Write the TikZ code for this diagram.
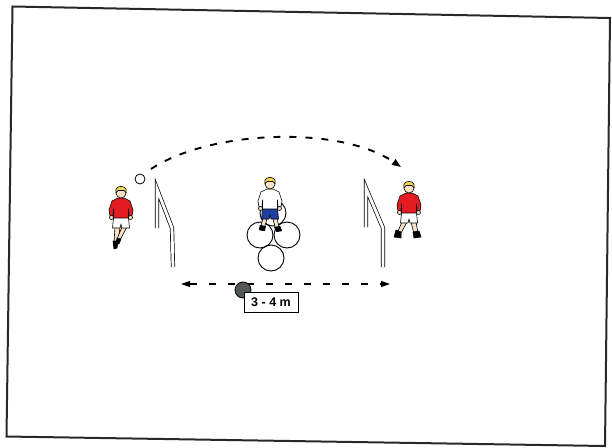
\documentclass[tikz,border=0pt]{standalone}
\usepackage{fontspec}
\setsansfont{Liberation Sans}
\usetikzlibrary{arrows.meta}

\definecolor{shirtred}{RGB}{226,28,32}
\definecolor{skin}{RGB}{250,226,196}
\definecolor{hairyellow}{RGB}{242,216,80}
\definecolor{shortsblue}{RGB}{32,62,160}
\definecolor{markgrey}{RGB}{84,88,84}
\definecolor{framegrey}{RGB}{40,40,40}

\tikzset{
  outline/.style={draw=black, line width=0.6pt, line join=round},
  frameline/.style={draw=framegrey, line width=2pt, line join=miter},
  goalframe/.style={draw=black, line width=0.7pt, double=white, double distance=2.8pt, line join=miter},
  hoop/.style={draw=black, line width=0.9pt},
  passline/.style={line width=1.9pt, dash pattern=on 7pt off 9pt,
    -{Triangle[length=9pt,width=6.5pt]}},
  distline/.style={line width=1.3pt, dash pattern=on 7pt off 12pt,
    {Triangle[length=9pt,width=6pt]}-{Triangle[length=9pt,width=6pt]}},
  distlabel/.style={draw=black, line width=0.8pt, fill=white, inner sep=0pt,
    minimum width=54pt, minimum height=20pt,
    font=\sffamily\bfseries\fontsize{12.5}{14}\selectfont},
  % head, shirt and shorts of a player; origin at the centre of the head
  pics/upperbody/.style 2 args={code={
    \draw[outline, fill=#1] (-3,5) -- (-9,8) -- (-12,17) -- (-11,23) -- (-8,23)
      -- (-7.5,16) -- (-7.5,26) -- (7.5,26) -- (7.5,16) -- (8,23) -- (11,23)
      -- (12,17) -- (9,8) -- (3,5) -- cycle;
    \draw[outline, fill=skin] (-9.5,24.5) circle (2);
    \draw[outline, fill=skin] (9.5,24.5) circle (2);
    \draw[outline, fill=skin] (0,0) circle (5);
    \draw[outline, fill=hairyellow] (-5.2,0) -- (-5,-4) .. controls (-3,-7.5) and (3,-7.5) .. (5,-4)
      -- (5.2,0) -- (3,-2.5) -- (-3,-2.5) -- cycle;
    \draw[outline, fill=#2] (-7.5,25) -- (7.5,25) -- (8.5,35) -- (1,35) -- (0,31)
      -- (-1,35) -- (-8.5,35) -- cycle;
  }}
}

\begin{document}
\begin{tikzpicture}[x=1pt, y=-1pt]
  \useasboundingbox (0,0) rectangle (612,447);

  % pitch outline
  \draw[frameline] (12.5,6.5) -- (610,18) -- (605,446) -- (6.5,436.5) -- cycle;

  % small goals
  \draw[goalframe] (157,228) -- (157,189) -- (172,228) -- (173,267);
  \draw[goalframe] (366,227) -- (366,188) -- (383,228) -- (383,267);

  % hoops
  \draw[hoop] (273,213) circle (13);
  \draw[hoop] (260,235) circle (13);
  \draw[hoop] (287,235) circle (13);
  \draw[hoop] (271,258) circle (13);

  % left player, running
  \begin{scope}[shift={(121,193)}]
    \draw[outline, fill=skin] (-6,34) -- (-1,34) -- (-3,50) -- (-7,50) -- cycle;
    \draw[outline, fill=skin] (1,34) -- (6,34) -- (-1,47) -- (-4,46) -- cycle;
    \draw[outline, fill=black] (-8,48) -- (-3,48) -- (-4,55) -- (-7,56) -- cycle;
    \draw[outline, fill=black] (-4,45) -- (0,46) -- (-2,51) -- (-5,50) -- cycle;
    \pic {upperbody={shirtred}{white}};
  \end{scope}

  % ball
  \node[draw=black, line width=0.8pt, fill=white, circle, minimum size=10pt, inner sep=0pt]
    (ball) at (140,179) {};

  % centre player, standing in the hoops
  \begin{scope}[shift={(270,184)}, scale=0.9]
    \draw[outline, fill=skin] (-7,34) -- (-2,34) -- (-6,48) -- (-10,47) -- cycle;
    \draw[outline, fill=skin] (2,34) -- (7,34) -- (10,48) -- (6,49) -- cycle;
    \draw[outline, fill=black] (-11,46) -- (-5,47) -- (-6,52) -- (-12,51) -- cycle;
    \draw[outline, fill=black] (5,48) -- (11,47) -- (13,52) -- (7,53) -- cycle;
    \pic {upperbody={white}{shortsblue}};
  \end{scope}

  % right player, ready stance
  \begin{scope}[shift={(409,188)}]
    \draw[outline, fill=skin] (-7,34) -- (-2,34) -- (-8,45) -- (-11,43) -- cycle;
    \draw[outline, fill=skin] (2,34) -- (7,34) -- (9,45) -- (5,46) -- cycle;
    \draw[outline, fill=black] (-13,42) -- (-8,44) -- (-8,50) -- (-15,49) -- cycle;
    \draw[outline, fill=black] (4,44) -- (10,43) -- (12,49) -- (5,50) -- cycle;
    \pic {upperbody={shirtred}{white}};
  \end{scope}

  % pass over the hoops
  \coordinate (passStart) at (151,169);
  \coordinate (passEnd) at (401,167);
  \draw[passline] (passStart) .. controls (210,130) and (340,125) .. (passEnd);

  % distance between the goals
  \coordinate (distL) at (181,284);
  \coordinate (distR) at (390,284);
  \draw[distline] (distL) -- (distR);

  % marker and distance label
  \node[draw=black, line width=0.8pt, fill=markgrey, circle, minimum size=16pt, inner sep=0pt]
    (marker) at (243,290) {};
  \node[distlabel] (dist) at (271,302) {3 - 4 m};
\end{tikzpicture}
\end{document}
